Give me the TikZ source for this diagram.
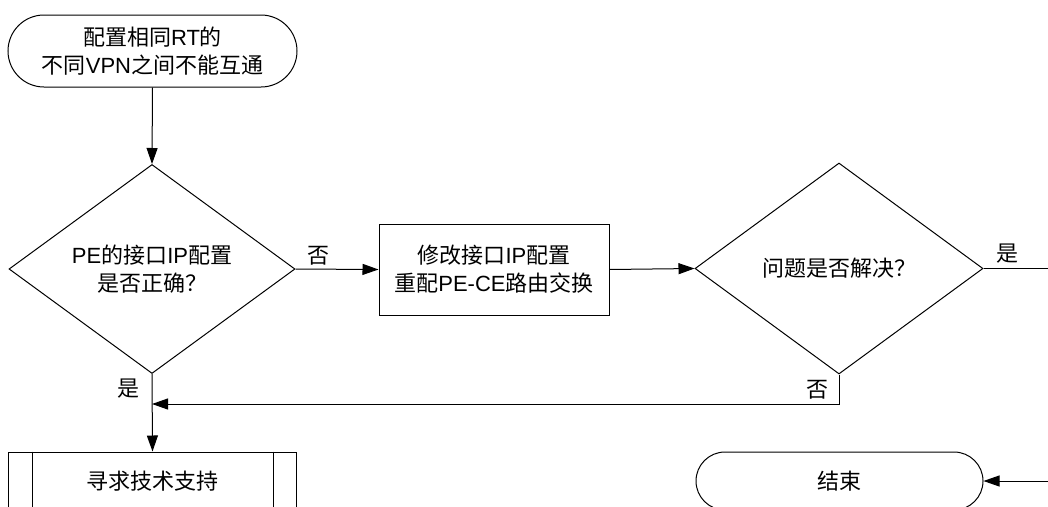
\documentclass[tikz,border=0pt]{standalone}
\usepackage{fontspec}
\setmainfont{Noto Sans CJK SC}
\newfontfamily\latfont{Liberation Sans}
\newcommand\La[1]{{\latfont #1}}
\usetikzlibrary{shapes.geometric,arrows.meta}
\tikzset{
  every node/.style={font=\fontsize{22}{28}\selectfont, align=center, inner sep=0pt},
  conn/.style={line width=1pt, draw=black},
  arr/.style={conn, -{Triangle[length=16pt,width=11pt]}},
  termbox/.style={draw, line width=1pt, rectangle},
  decbox/.style={draw, line width=1pt, diamond, aspect=1.37},
  procbox/.style={draw, line width=1pt, rectangle},
  lbl/.style={}
}
\begin{document}
\begin{tikzpicture}[x=1pt,y=-1pt]
\useasboundingbox (0,0) rectangle (1048,506);
\clip (0,0) rectangle (1048,506);
\node[termbox, rounded corners=36pt, minimum width=289pt, minimum height=72pt] (start) at (152.5,51) {配置相同\La{RT}的\\不同\La{VPN}之间不能互通};
\node[decbox, minimum width=286pt, minimum height=209pt] (d1) at (152,269) {\La{PE}的接口\La{IP}配置\\是否正确？};
\node[procbox, minimum width=230pt, minimum height=91pt] (fix) at (494,269.5) {修改接口\La{IP}配置\\重配\La{PE-CE}路由交换};
\node[decbox, minimum width=288pt, minimum height=211pt] (d2) at (839,268.5) {问题是否解决？};
\node[procbox, minimum width=288pt, minimum height=58pt] (help) at (152.5,481) {寻求技术支持};
\draw[conn] ([xshift=24pt]help.north west) -- ([xshift=24pt]help.south west);
\draw[conn] ([xshift=-24pt]help.north east) -- ([xshift=-24pt]help.south east);
\node[termbox, rounded corners=29pt, minimum width=287pt, minimum height=58pt] (end) at (839.5,481) {结束};
\coordinate (rt) at (1075,268.5);
\coordinate (jn) at (839,404);
\coordinate (jl) at (152,404);
\draw[arr] (start.south) -- (d1.north);
\draw[arr] (d1.east) -- (fix.west);
\draw[arr] (fix.east) -- (d2.west);
\draw[conn] (d2.east) -- (rt);
\draw[arr] (rt) |- (end.east);
\draw[arr] (d1.south) -- (help.north);
\draw[arr] (d2.south) -- (jn) -- (jl);
\node[lbl] (l1) at (318,256) {否};
\node[lbl] (l2) at (1007,254) {是};
\node[lbl] (l3) at (128,389) {是};
\node[lbl] (l4) at (817,390) {否};
\end{tikzpicture}
\end{document}
